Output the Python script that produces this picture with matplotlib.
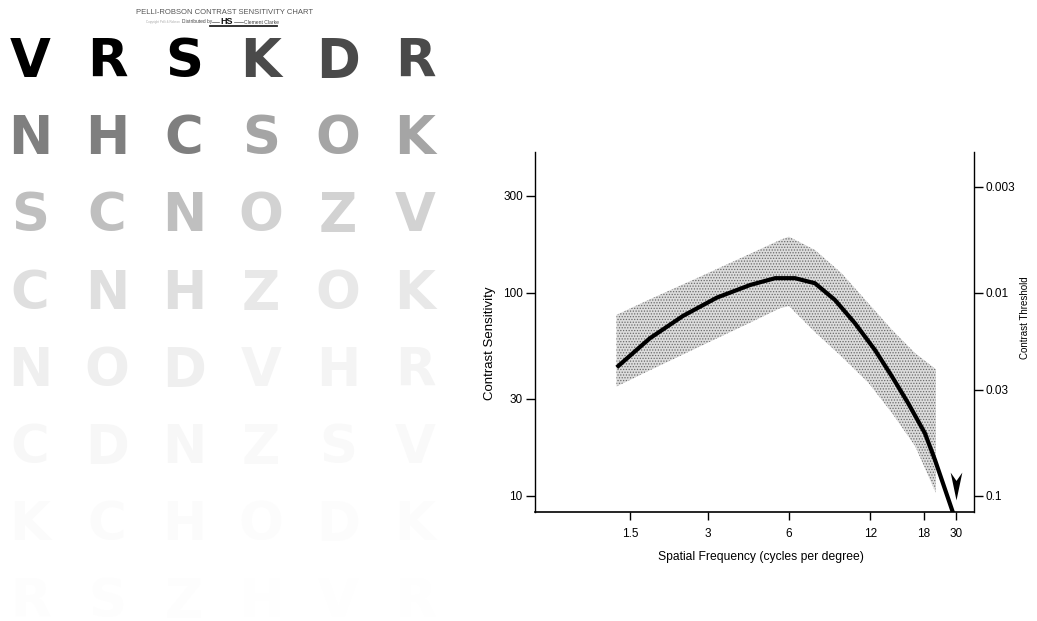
import numpy as np
import matplotlib
matplotlib.use("Agg")
import matplotlib.pyplot as plt
from matplotlib.lines import Line2D
from matplotlib.ticker import NullLocator

# Pelli-Robson chart: letters, one string per row, and log contrast per triplet
chart_rows = ["VRSKDR", "NHCSOK", "SCNOZV", "CNHZOK", "NODVHR", "CDNZSV", "KCHODK", "RSZHVR"]
triplet_log_cs = [0.00, 0.15, 0.30, 0.45, 0.60, 0.75, 0.90, 1.05,
                  1.20, 1.35, 1.50, 1.65, 1.80, 1.95, 2.10, 2.25]

# contrast sensitivity function
curve_freq = [1.334, 1.79, 2.4, 3.23, 4.30, 5.33, 6.32, 7.49, 8.88, 10.53, 12.43, 14.16, 16.02, 18.4, 21.6, 29.6]
curve_cs = [42.9, 59.7, 76.9, 94.6, 109.2, 118, 118, 111.4, 92.1, 70.7, 52.2, 38.6, 28.5, 20.3, 15.0, 7.77]

# normal range band
band_freq = [1.33, 1.79, 2.79, 4.30, 5.56, 6.0, 7.49, 9.4, 11.8, 14.16, 16.9, 21.9]
band_hi = [77.8, 92.9, 120, 155.6, 182, 189, 162.5, 124.7, 88.7, 65.6, 50.3, 42]
band_lo = [34.5, 41.5, 54.4, 71.2, 83.9, 86, 64, 48.4, 36, 25.5, 17.5, 10.3]

freq_ticks = [1.5, 3, 6, 12, 18, 30]
cs_ticks = [10, 30, 100, 300]
thr_ticks = [0.003, 0.01, 0.03, 0.1]
cutoff_freq = 30
cutoff_mark_cs = 11.1

# the printed frequency axis is only roughly logarithmic: place ticks where drawn
tick_slots = [0.0, 1.0, 2.032, 3.074, 3.754, 4.164]
kx = np.log10(freq_ticks)
ky = np.array(tick_slots)


def fwd(x):
    lx = np.log10(np.clip(np.asarray(x, float), 1e-6, None))
    lo = ky[0] + (lx - kx[0]) * (ky[1] - ky[0]) / (kx[1] - kx[0])
    hi = ky[-1] + (lx - kx[-1]) * (ky[-1] - ky[-2]) / (kx[-1] - kx[-2])
    return np.where(lx < kx[0], lo, np.where(lx > kx[-1], hi, np.interp(lx, kx, ky)))


def inv(y):
    y = np.asarray(y, float)
    lo = kx[0] + (y - ky[0]) * (kx[1] - kx[0]) / (ky[1] - ky[0])
    hi = kx[-1] + (y - ky[-1]) * (kx[-1] - kx[-2]) / (ky[-1] - ky[-2])
    return 10 ** np.where(y < ky[0], lo, np.where(y > ky[-1], hi, np.interp(y, ky, kx)))


plt.rcParams["font.family"] = ["Liberation Sans", "DejaVu Sans"]
plt.rcParams["hatch.linewidth"] = 0.6

W, H = 1037, 621
fig = plt.figure(figsize=(W / 100, H / 100), dpi=100)

# ---- left: letter chart ----
lax = fig.add_axes([0, 0, 450 / W, 1 - 30 / H])
lax.set_xlim(-0.39, 5.455)
lax.set_ylim(7.30, -0.36)
lax.axis("off")
for r, row in enumerate(chart_rows):
    for c, letter in enumerate(row):
        lc = triplet_log_cs[r * 2 + c // 3]
        g = 1 - 10 ** (-lc)
        lax.text(c, r + 0.25, letter, ha="center", va="baseline",
                 fontsize=38, fontweight="bold", family="DejaVu Sans",
                 color=(g, g, g))

fig.text(225 / W, 1 - 12 / H, "PELLI-ROBSON CONTRAST SENSITIVITY CHART",
         ha="center", va="center", fontsize=5.5, color="#555555")
fig.text(163 / W, 1 - 22 / H, "Copyright Pelli & Robson", ha="center", va="center",
         fontsize=2.2, color="#aaaaaa")
fig.text(197 / W, 1 - 22 / H, "Distributed by", ha="center", va="center",
         fontsize=3.5, color="#444444")
fig.text(227 / W, 1 - 21 / H, "HS", ha="center", va="center",
         fontsize=6.5, fontweight="bold", color="#111111")
fig.text(261 / W, 1 - 22.5 / H, "Clement Clarke", ha="center", va="center",
         fontsize=3.6, color="#444444")
fig.add_artist(Line2D([212 / W, 219 / W], [1 - 21.5 / H] * 2, color="#555555", lw=0.5))
fig.add_artist(Line2D([234 / W, 243 / W], [1 - 21.5 / H] * 2, color="#555555", lw=0.5))
fig.add_artist(Line2D([210 / W, 277 / W], [1 - 26 / H] * 2, color="#222222", lw=1.3))

# ---- right: contrast sensitivity function ----
ax = fig.add_axes([534.6 / W, 1 - 512.3 / H, 439 / W, 360.3 / H])
ax.set_xscale("function", functions=(fwd, inv))
ax.set_yscale("log")
ax.set_xlim(inv(-1.22), inv(4.394))
ax.set_ylim(8.28, 494)

ax.fill_between(band_freq, band_lo, band_hi, facecolor="#dcdcdc", edgecolor="#6a6a6a",
                hatch="......", linewidth=0)
ax.plot(curve_freq, curve_cs, color="black", lw=3, solid_capstyle="butt",
        solid_joinstyle="round")

arrow = [(0, -1), (-0.42, 1), (0, 0.4), (0.42, 1), (0, -1)]
ax.plot([cutoff_freq], [cutoff_mark_cs], marker=arrow, ms=20, color="black",
        mec="black", mew=0, clip_on=False)

for s in ["top", "right"]:
    ax.spines[s].set_visible(False)
ax.spines["left"].set_linewidth(1.0)
ax.spines["bottom"].set_linewidth(1.2)

ax.set_xticks(freq_ticks, labels=[f"{v:g}" for v in freq_ticks])
ax.xaxis.set_minor_locator(NullLocator())
ax.set_yticks(cs_ticks, labels=[str(v) for v in cs_ticks])
ax.yaxis.set_minor_locator(NullLocator())
ax.tick_params(axis="x", length=5.5, width=1, pad=6, labelsize=8.5)
ax.tick_params(axis="y", length=6.5, width=1, pad=2, labelsize=8.5)

sec = ax.secondary_yaxis("right", functions=(lambda v: 1 / np.maximum(v, 1e-9),
                                             lambda v: 1 / np.maximum(v, 1e-9)))
sec.set_yticks(thr_ticks, labels=[f"{v:g}" for v in thr_ticks])
sec.yaxis.set_minor_locator(NullLocator())
sec.tick_params(axis="y", length=6.5, width=1, pad=2, labelsize=8.5)
sec.spines["right"].set_linewidth(1.0)

ax.set_xlabel("Spatial Frequency (cycles per degree)", fontsize=8.7)
ax.xaxis.set_label_coords(0.515, -0.107)
fig.text(490 / W, 1 - 343 / H, "Contrast Sensitivity", rotation=90,
         ha="center", va="center", fontsize=9.5)
fig.text(1025 / W, 1 - 318 / H, "Contrast Threshold", rotation=90,
         ha="center", va="center", fontsize=7)

fig.savefig("out.png", dpi=100)
